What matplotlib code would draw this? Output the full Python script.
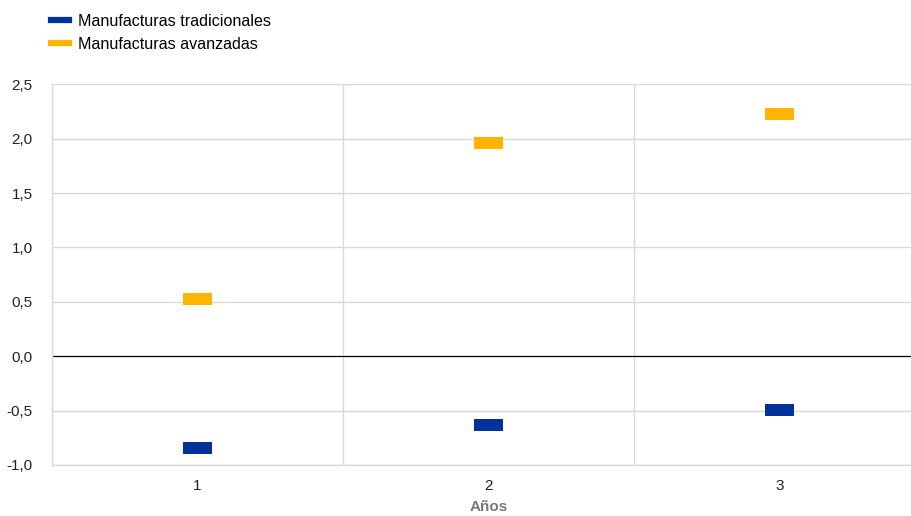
import matplotlib
matplotlib.use("Agg")
import matplotlib.pyplot as plt
from matplotlib.lines import Line2D

plt.rcParams['font.family'] = ['Liberation Sans', 'DejaVu Sans']

categories = ["1", "2", "3"]
tradicionales = [-0.84, -0.63, -0.49]
avanzadas = [0.53, 1.96, 2.23]
yticks = [-1.0, -0.5, 0.0, 0.5, 1.0, 1.5, 2.0, 2.5]
ytick_labels = ["-1,0", "-0,5", "0,0", "0,5", "1,0", "1,5", "2,0", "2,5"]

blue = "#003299"
yellow = "#ffb400"
grid_c = "#d9d9d9"

W, H = 911, 516
fig = plt.figure(figsize=(W / 100, H / 100), dpi=100)
ax = fig.add_axes([52 / W, 1 - 465 / H, (925 - 52) / W, (465 - 84.3) / H])

x = list(range(len(categories)))
mh = 0.11
mw = 0.103
ax.bar(x, [mh] * 3, bottom=[v - mh / 2 for v in tradicionales], width=mw, color=blue, zorder=3)
ax.bar(x, [mh] * 3, bottom=[v - mh / 2 for v in avanzadas], width=mw, color=yellow, zorder=3)

ax.set_xlim(-0.5, len(categories) - 0.5)
ax.set_ylim(-1.0, 2.5)
ax.set_yticks(yticks)
ax.set_yticklabels(ytick_labels)
ax.set_xticks(x)
ax.set_xticklabels(categories)
ax.tick_params(axis='both', length=0, labelsize=11, colors="#222222")
ax.tick_params(axis='y', pad=14)
ax.tick_params(axis='x', pad=10)

for y in yticks:
    if y != 0:
        ax.axhline(y, color=grid_c, lw=1, zorder=1)
for xv in [0.5, 1.5]:
    ax.axvline(xv, color=grid_c, lw=1, zorder=1)
ax.axhline(0, color="#000000", lw=0.9, zorder=2)

for s in ['top', 'right']:
    ax.spines[s].set_visible(False)
for s in ['left', 'bottom']:
    ax.spines[s].set_color(grid_c)
    ax.spines[s].set_linewidth(1)

ax.set_xlabel("Años", fontsize=11, fontweight='bold', color="#777777", labelpad=5)

handles = [Line2D([0], [0], color=blue, lw=4.5),
           Line2D([0], [0], color=yellow, lw=4.5)]
fig.legend(handles, ["Manufacturas tradicionales", "Manufacturas avanzadas"],
           loc='upper left', bbox_to_anchor=(51 / W, 1 - 14 / H), frameon=False,
           handlelength=1.1, handletextpad=0.55, labelspacing=0.5,
           borderaxespad=0, borderpad=0, prop={'size': 11.6})

fig.savefig("out.png", dpi=100)
